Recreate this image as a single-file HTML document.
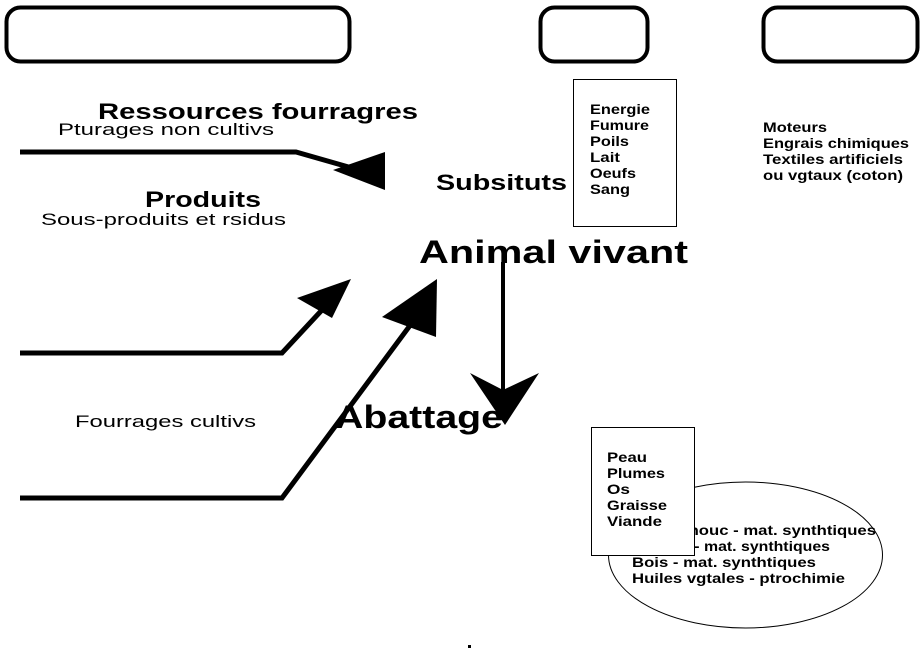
<!DOCTYPE html>
<html><head><meta charset="utf-8"><style>
html,body{margin:0;padding:0;background:#fff;}
svg{display:block;}
text{font-family:"Liberation Sans",sans-serif;fill:#000;}
.b{font-weight:bold;}
</style></head><body>
<svg width="923" height="653" viewBox="0 0 923 653" xmlns="http://www.w3.org/2000/svg">
<rect x="6.5" y="7.5" width="343" height="54" rx="14" fill="none" stroke="#000" stroke-width="4"/>
<rect x="540.5" y="7.5" width="107" height="54" rx="14" fill="none" stroke="#000" stroke-width="4"/>
<rect x="763.5" y="7.5" width="154" height="54" rx="14" fill="none" stroke="#000" stroke-width="4"/>

<text x="98" y="119" class="b" font-size="22" textLength="320" lengthAdjust="spacingAndGlyphs">Ressources fourragres</text>
<text x="58" y="135" font-size="17" textLength="216" lengthAdjust="spacingAndGlyphs">Pturages non cultivs</text>
<text x="145" y="207" class="b" font-size="22" textLength="116" lengthAdjust="spacingAndGlyphs">Produits</text>
<text x="41" y="225" font-size="17" textLength="245" lengthAdjust="spacingAndGlyphs">Sous-produits et rsidus</text>
<text x="436" y="190" class="b" font-size="22" textLength="131" lengthAdjust="spacingAndGlyphs">Subsituts</text>
<text x="419" y="263" class="b" font-size="32" textLength="269" lengthAdjust="spacingAndGlyphs">Animal vivant</text>
<text x="75" y="427" font-size="17" textLength="181" lengthAdjust="spacingAndGlyphs">Fourrages cultivs</text>

<polyline points="20,152 296,152 366,172" fill="none" stroke="#000" stroke-width="5"/>
<polygon points="333,170 385,152 385,190" fill="#000"/>
<polyline points="20,353 282,353 335,296" fill="none" stroke="#000" stroke-width="5"/>
<polygon points="297,298 351,279 332,318" fill="#000"/>
<polyline points="20,498 282,498 420,312" fill="none" stroke="#000" stroke-width="5"/>
<polygon points="382,317 437,279 436,337" fill="#000"/>
<line x1="503" y1="262" x2="503" y2="395" stroke="#000" stroke-width="4"/>
<polygon points="470,373 503,390 539,373 505,425" fill="#000"/>

<text x="335" y="428" class="b" font-size="32" textLength="168" lengthAdjust="spacingAndGlyphs">Abattage</text>

<rect x="573.5" y="79.5" width="103" height="147" fill="#fff" stroke="#000" stroke-width="1"/>
<g class="b" font-size="14">
<text x="590" y="114" textLength="60" lengthAdjust="spacingAndGlyphs">Energie</text>
<text x="590" y="130" textLength="59" lengthAdjust="spacingAndGlyphs">Fumure</text>
<text x="590" y="146" textLength="39" lengthAdjust="spacingAndGlyphs">Poils</text>
<text x="590" y="162" textLength="30" lengthAdjust="spacingAndGlyphs">Lait</text>
<text x="590" y="178" textLength="46" lengthAdjust="spacingAndGlyphs">Oeufs</text>
<text x="590" y="194" textLength="40" lengthAdjust="spacingAndGlyphs">Sang</text>
<text x="763" y="132" textLength="64" lengthAdjust="spacingAndGlyphs">Moteurs</text>
<text x="763" y="148" textLength="146" lengthAdjust="spacingAndGlyphs">Engrais chimiques</text>
<text x="763" y="164" textLength="140" lengthAdjust="spacingAndGlyphs">Textiles artificiels</text>
<text x="763" y="180" textLength="140" lengthAdjust="spacingAndGlyphs">ou vgtaux (coton)</text>
</g>

<ellipse cx="745.5" cy="555" rx="137" ry="73" fill="#fff" stroke="#000" stroke-width="1"/>
<g class="b" font-size="14">
<text x="632" y="535" textLength="244" lengthAdjust="spacingAndGlyphs">Caoutchouc - mat. synthtiques</text>
<text x="632" y="551" textLength="198" lengthAdjust="spacingAndGlyphs">Textiles - mat. synthtiques</text>
<text x="632" y="567" textLength="184" lengthAdjust="spacingAndGlyphs">Bois - mat. synthtiques</text>
<text x="632" y="583" textLength="213" lengthAdjust="spacingAndGlyphs">Huiles vgtales - ptrochimie</text>
</g>
<rect x="591.5" y="427.5" width="103" height="128" fill="#fff" stroke="#000" stroke-width="1"/>
<g class="b" font-size="14">
<text x="607" y="462" textLength="40" lengthAdjust="spacingAndGlyphs">Peau</text>
<text x="607" y="478" textLength="58" lengthAdjust="spacingAndGlyphs">Plumes</text>
<text x="607" y="494" textLength="23" lengthAdjust="spacingAndGlyphs">Os</text>
<text x="607" y="510" textLength="60" lengthAdjust="spacingAndGlyphs">Graisse</text>
<text x="607" y="526" textLength="55" lengthAdjust="spacingAndGlyphs">Viande</text>
</g>
<rect x="468" y="645" width="3" height="3" fill="#000"/>
</svg>
</body></html>
